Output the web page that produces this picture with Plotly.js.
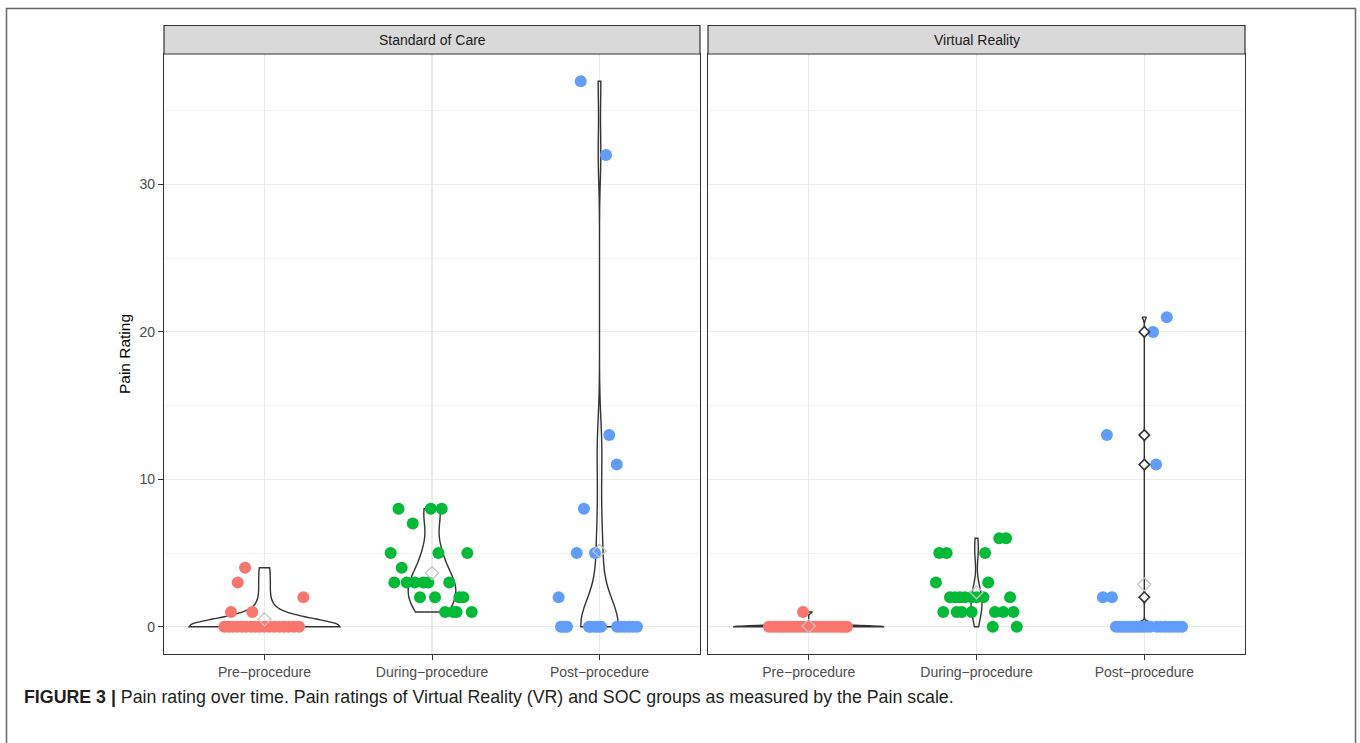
<!DOCTYPE html>
<html><head><meta charset="utf-8">
<script src="https://cdn.plot.ly/plotly-3.0.1.min.js"></script>
<style>html,body{margin:0;padding:0;background:#fff}</style>
</head><body><div id="chart" style="width:1360px;height:743px"></div>
<script>
// ---------- data ----------
const timeLabels = ['Pre\u2212procedure', 'During\u2212procedure', 'Post\u2212procedure'];
const groupLabels = ['Standard of Care', 'Virtual Reality'];
const timeColors = ['#F8766D', '#00BA38', '#619CFF'];
const captionBold = 'FIGURE 3 |';
const captionText = 'Pain rating over time. Pain ratings of Virtual Reality (VR) and SOC groups as measured by the Pain scale.';
const yTitle = 'Pain Rating';

// Standard of Care
const socPreValues = [4, 3, 2, 1, 1, 0,0,0,0,0,0,0,0,0,0,0,0,0,0,0,0,0];
const socPreJitter = [-0.116, -0.16, 0.232, -0.2, -0.073,
  -0.24, -0.215, -0.19, -0.163, -0.135, -0.11, -0.08, -0.055, -0.03, 0.0, 0.03, 0.058, 0.087, 0.115, 0.145, 0.175, 0.206];

const socDuringValues = [8, 8, 8, 7, 5, 5, 5, 4, 3, 3, 3, 3, 3, 3, 2, 2, 2, 2, 1, 1, 1, 1];
const socDuringJitter = [-0.2, -0.007, 0.058, -0.115, -0.247, 0.038, 0.211, -0.181,
  -0.225, -0.151, -0.102, -0.052, -0.022, 0.103, -0.072, 0.018, 0.163, 0.187, 0.078, 0.127, 0.147, 0.237];

const socPostValues = [37, 32, 13, 11, 8, 5, 5, 2, 0,0,0,0,0,0,0,0,0,0,0,0,0,0];
const socPostJitter = [-0.112, 0.039, 0.058, 0.103, -0.093, -0.136, -0.027, -0.244,
  -0.23, -0.212, -0.194, -0.063, -0.051, -0.027, -0.009, 0.009, 0.105, 0.128, 0.152, 0.176, 0.2, 0.224];

// Virtual Reality
const vrPreValues = [1, 0,0,0,0,0,0,0,0,0,0,0,0,0,0,0,0,0,0,0,0,0,0,0];
const vrPreJitter = [-0.034,
  -0.237, -0.215, -0.195, -0.172, -0.152, -0.13, -0.108, -0.088, -0.066, -0.046, -0.022, 0.0,
  0.022, 0.043, 0.065, 0.087, 0.108, 0.13, 0.15, 0.172, 0.193, 0.212, 0.228];

const vrDuringValues = [6, 6, 5, 5, 5, 3, 3, 2, 2, 2, 2, 2, 2, 2, 2, 1, 1, 1, 1, 1, 1, 1, 0, 0];
const vrDuringJitter = [0.136, 0.176, -0.222, -0.178, 0.051, -0.242, 0.07,
  -0.158, -0.128, -0.099, -0.069, -0.029, 0.001, 0.041, 0.2,
  -0.198, -0.118, -0.088, -0.029, 0.11, 0.16, 0.22, 0.097, 0.24];

const vrPostValues = [21, 20, 13, 11, 2, 2, 0,0,0,0,0,0,0,0,0,0,0,0,0,0,0,0,0,0];
const vrPostJitter = [0.134, 0.052, -0.223, 0.07, -0.247, -0.193,
  -0.169, -0.15, -0.13, -0.11, -0.09, -0.07, -0.05, -0.03, -0.01, 0.01, 0.035, 0.075, 0.1, 0.125, 0.15, 0.175, 0.2, 0.225];
const vrPostDiamonds = [20, 13, 11, 2];

// ---------- helpers ----------
function quantile(s, p) {
  const h = (s.length - 1) * p, lo = Math.floor(h), hi = Math.min(lo + 1, s.length - 1);
  return s[lo] + (h - lo) * (s[hi] - s[lo]);
}
function mean(v) { return v.reduce((a, b) => a + b, 0) / v.length; }
function bwNrd0(v) {
  const n = v.length, m = mean(v);
  const sd = Math.sqrt(v.reduce((a, b) => a + (b - m) * (b - m), 0) / (n - 1));
  const s = [...v].sort((a, b) => a - b);
  let lo = Math.min(sd, (quantile(s, 0.75) - quantile(s, 0.25)) / 1.34);
  if (!lo) lo = sd || Math.abs(s[0]) || 1;
  return 0.9 * lo * Math.pow(n, -0.2);
}
// max of the gaussian KDE over the (trimmed) data range, as ggplot's stat_ydensity does
function kdeMax(v, bw) {
  const lo = Math.min(...v), hi = Math.max(...v), n = v.length;
  let best = 0;
  for (let k = 0; k < 512; k++) {
    const x = lo + (hi - lo) * k / 511;
    let d = 0;
    v.forEach(xi => { const z = (x - xi) / bw; d += Math.exp(-0.5 * z * z); });
    d /= n * bw * Math.sqrt(2 * Math.PI);
    if (d > best) best = d;
  }
  return best;
}

const panels = [
  {xa: 'x', ya: 'y', grp: 'soc', vals: [socPreValues, socDuringValues, socPostValues], jit: [socPreJitter, socDuringJitter, socPostJitter]},
  {xa: 'x2', ya: 'y2', grp: 'vr', vals: [vrPreValues, vrDuringValues, vrPostValues], jit: [vrPreJitter, vrDuringJitter, vrPostJitter]}
];

const traces = [];
panels.forEach(p => {
  const bws = p.vals.map(bwNrd0);
  const maxes = p.vals.map((v, i) => kdeMax(v, bws[i]));
  const panelMax = Math.max(...maxes);
  p.vals.forEach((v, i) => {
    traces.push({
      type: 'violin', x0: i + 1, y: v, xaxis: p.xa, yaxis: p.ya,
      width: 0.9 * maxes[i] / panelMax, bandwidth: bws[i], spanmode: 'hard',
      scalemode: 'width', scalegroup: p.grp + i,
      points: false, box: {visible: false}, meanline: {visible: false},
      line: {color: '#333333', width: 1.4}, fillcolor: 'rgba(255,255,255,0)',
      hoverinfo: 'skip', showlegend: false
    });
  });
});
panels.forEach(p => {
  p.vals.forEach((v, i) => {
    traces.push({
      type: 'scatter', mode: 'markers', xaxis: p.xa, yaxis: p.ya,
      x: p.jit[i].map(j => i + 1 + j), y: v,
      marker: {color: timeColors[i], size: 12, line: {width: 0}},
      hoverinfo: 'y', showlegend: false
    });
  });
});
// VR post-procedure dark diamonds
traces.push({
  type: 'scatter', mode: 'markers', xaxis: 'x2', yaxis: 'y2',
  x: vrPostDiamonds.map(() => 3), y: vrPostDiamonds,
  marker: {symbol: 'diamond', color: '#ffffff', size: 8, line: {color: '#333333', width: 1.6}},
  hoverinfo: 'y', showlegend: false
});
// means
panels.forEach(p => {
  traces.push({
    type: 'scatter', mode: 'markers', xaxis: p.xa, yaxis: p.ya,
    x: [1, 2, 3], y: p.vals.map(mean),
    marker: {symbol: 'diamond-open', color: '#c4c4c4', size: 10, line: {width: 1.3}},
    hoverinfo: 'y', showlegend: false
  });
});

// ---------- layout ----------
const L = 164, R = 1245, T = 54, B = 654, W = R - L, H = B - T;
const px2x = p => (p - L) / W, py2y = p => (B - p) / H;
const font = 'Liberation Sans, Arial, Helvetica, sans-serif';

const xBase = {
  type: 'linear', range: [0.4, 3.6], tickvals: [1, 2, 3], ticktext: timeLabels,
  showgrid: true, gridcolor: '#ebebeb', gridwidth: 1.1, zeroline: false,
  showline: true, mirror: true, linecolor: '#333333', linewidth: 1.2,
  ticks: 'outside', ticklen: 5, tickwidth: 1, tickcolor: '#333333',
  tickfont: {size: 14, color: '#4d4d4d', family: font}, fixedrange: true
};
const yBase = {
  type: 'linear', range: [-1.85, 38.85], tick0: 0, dtick: 10,
  showgrid: true, gridcolor: '#ebebeb', gridwidth: 1.1, zeroline: false,
  minor: {dtick: 5, tick0: 0, showgrid: true, gridcolor: '#f4f4f4', gridwidth: 1, ticks: ''},
  showline: true, mirror: true, linecolor: '#333333', linewidth: 1.2,
  tickfont: {size: 14, color: '#4d4d4d', family: font}, fixedrange: true
};

const layout = {
  width: 1360, height: 743,
  margin: {l: L, r: 1360 - R, t: T, b: 743 - B, pad: 0},
  paper_bgcolor: '#ffffff', plot_bgcolor: '#ffffff',
  font: {family: font},
  showlegend: false, violinmode: 'overlay',
  xaxis: Object.assign({}, xBase, {domain: [0, px2x(700)], anchor: 'y'}),
  xaxis2: Object.assign({}, xBase, {domain: [px2x(708), 1], anchor: 'y2'}),
  yaxis: Object.assign({}, yBase, {anchor: 'x', ticks: 'outside', ticklen: 5, tickwidth: 1, tickcolor: '#333333',
    title: {text: yTitle, font: {size: 15.5, color: '#000000', family: font}, standoff: 5}}),
  yaxis2: Object.assign({}, yBase, {anchor: 'x2', matches: 'y', showticklabels: false, ticks: ''}),
  shapes: [
    {type: 'rect', xref: 'paper', yref: 'paper', x0: px2x(6.5), x1: px2x(1355.5), y0: py2y(800), y1: py2y(8.5),
      line: {color: '#666666', width: 1.5}, fillcolor: 'rgba(0,0,0,0)', layer: 'below'},
    {type: 'rect', xref: 'paper', yref: 'paper', x0: 0, x1: px2x(700), y0: py2y(54), y1: py2y(25.5),
      line: {color: '#333333', width: 1.2}, fillcolor: '#d9d9d9'},
    {type: 'rect', xref: 'paper', yref: 'paper', x0: px2x(708), x1: 1, y0: py2y(54), y1: py2y(25.5),
      line: {color: '#333333', width: 1.2}, fillcolor: '#d9d9d9'}
  ],
  annotations: [
    {xref: 'paper', yref: 'paper', x: px2x(432), y: py2y(40), text: groupLabels[0], showarrow: false,
      xanchor: 'center', yanchor: 'middle', font: {size: 14, color: '#1a1a1a', family: font}},
    {xref: 'paper', yref: 'paper', x: px2x(976.5), y: py2y(40), text: groupLabels[1], showarrow: false,
      xanchor: 'center', yanchor: 'middle', font: {size: 14, color: '#1a1a1a', family: font}},
    {xref: 'paper', yref: 'paper', x: px2x(22), y: py2y(697), text: '<b>' + captionBold + '</b> ' + captionText,
      showarrow: false, xanchor: 'left', yanchor: 'middle',
      font: {size: 17.8, color: '#231f20', family: 'Liberation Sans Narrow, Arial Narrow, Liberation Sans, sans-serif'}}
  ]
};

Plotly.newPlot('chart', traces, layout, {displayModeBar: false, staticPlot: true});
</script>
</body></html>
